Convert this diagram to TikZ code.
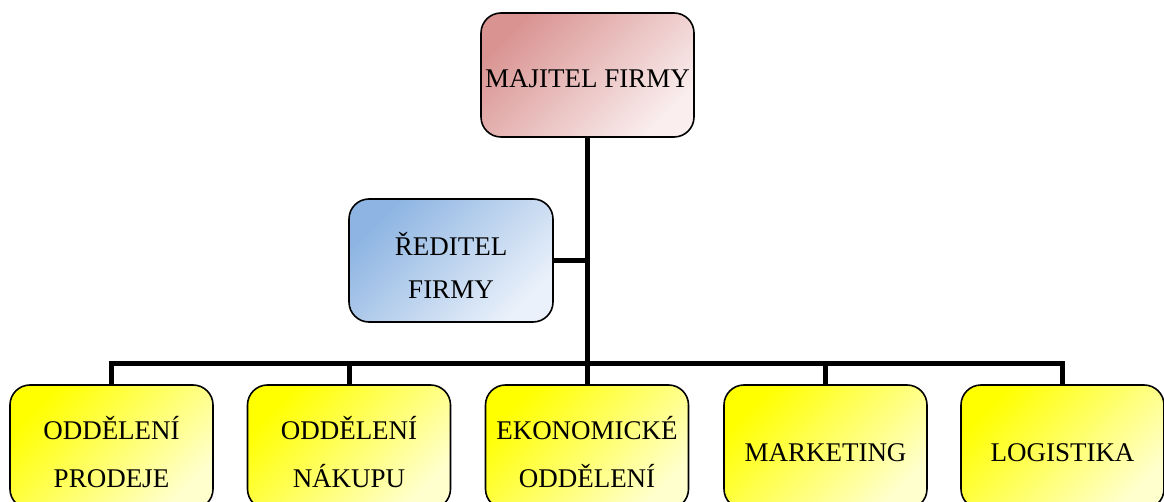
\documentclass[tikz,border=0pt]{standalone}
\usepackage{fontspec}
\setmainfont{Liberation Serif}
\definecolor{pinkA}{RGB}{217,148,146}
\definecolor{pinkB}{RGB}{250,238,238}
\definecolor{blueA}{RGB}{141,180,226}
\definecolor{blueB}{RGB}{234,241,250}
\definecolor{yelA}{RGB}{255,255,0}
\definecolor{yelB}{RGB}{255,255,205}
\begin{document}
\begin{tikzpicture}[x=1pt,y=-1pt,
  box/.style={draw=black, line width=1.6pt, rounded corners=20pt, align=center,
    inner sep=0pt, minimum width=203pt, minimum height=124pt, text depth=0pt},
  ownbox/.style={box, top color=pinkA, bottom color=pinkB, shading angle=45,
    minimum width=213pt, text height=26pt, font=\fontsize{27}{30}\selectfont},
  dirbox/.style={box, top color=blueA, bottom color=blueB, shading angle=45,
    minimum width=204pt, minimum height=123pt, text height=77pt,
    font=\fontsize{27}{43}\selectfont},
  depbox/.style={box, top color=yelA, bottom color=yelB, shading angle=45,
    text height=80pt, font=\fontsize{27}{48}\selectfont},
  onebox/.style={depbox, text height=28pt},
  conn/.style={draw=black, line width=5pt, line join=miter}]
\useasboundingbox (0,0) rectangle (1164,502);

\node[ownbox] (own) at (587.5,75) {MAJITEL FIRMY};
\node[dirbox] (dir) at (451,260.5) {ŘEDITEL\\FIRMY};
\node[depbox] (b1) at (111.5,447) {ODDĚLENÍ\\PRODEJE};
\node[depbox] (b2) at (349,447) {ODDĚLENÍ\\NÁKUPU};
\node[depbox] (b3) at (587,447) {EKONOMICKÉ\\ODDĚLENÍ};
\node[onebox] (b4) at (825.5,447) {MARKETING};
\node[onebox] (b5) at (1062.5,447) {LOGISTIKA};

\coordinate (bus) at (587,363);
\coordinate (top) at (587,137);

\draw[conn] (top) -- (bus);
\draw[conn] (dir.east) -- (dir.east -| bus);
\draw[conn] (b1.north) |- (bus) -| (b5.north);
\draw[conn] (b2.north) -- (b2.north |- bus);
\draw[conn] (b3.north) -- (bus);
\draw[conn] (b4.north) -- (b4.north |- bus);
\end{tikzpicture}
\end{document}
